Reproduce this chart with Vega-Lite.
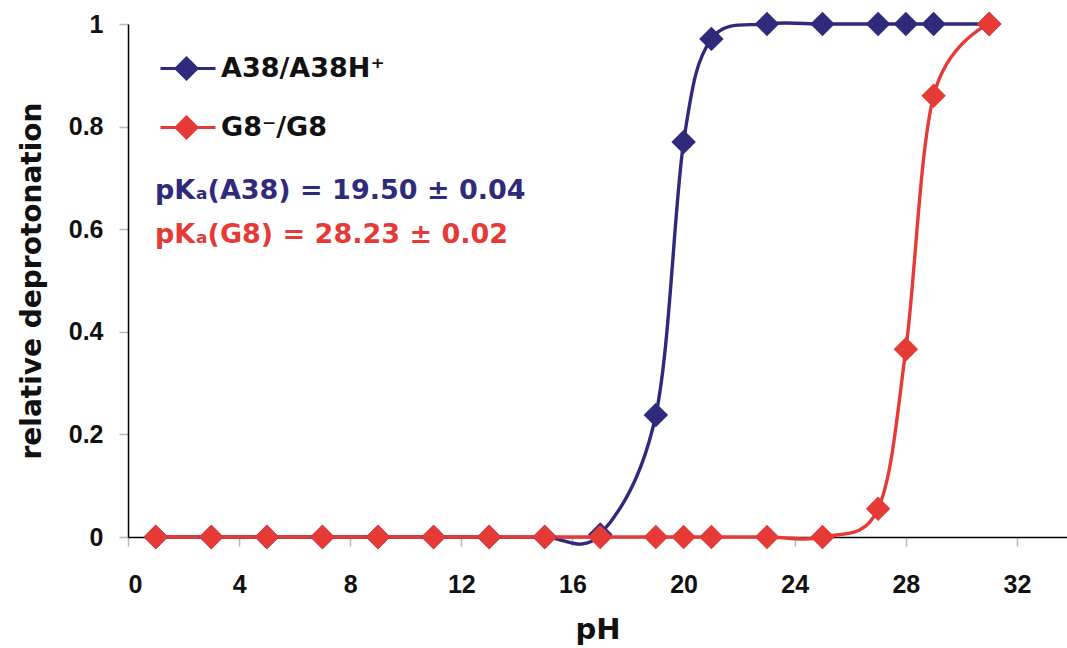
{
  "$schema": "https://vega.github.io/schema/vega-lite/v6.json",
  "width": 939,
  "height": 513,
  "autosize": {"type": "none"},
  "padding": {"left": 128, "top": 24, "right": 0, "bottom": 111},
  "background": "white",
  "config": {
    "view": {"stroke": null},
    "axis": {
      "grid": false,
      "domainColor": "black",
      "domainWidth": 1.5,
      "tickColor": "#b8b8b8",
      "tickSize": 9,
      "tickWidth": 1.5,
      "labelFont": "Liberation Sans",
      "labelFontWeight": "bold",
      "labelFontSize": 25,
      "labelColor": "#111",
      "titleFont": "DejaVu Sans",
      "titleFontWeight": "bold",
      "titleColor": "#111"
    }
  },
  "datasets": {
    "curves": [
      {"series": "A38/A38H⁺", "pH": 1, "value": 0},
      {"series": "A38/A38H⁺", "pH": 3, "value": 0},
      {"series": "A38/A38H⁺", "pH": 5, "value": 0},
      {"series": "A38/A38H⁺", "pH": 7, "value": 0},
      {"series": "A38/A38H⁺", "pH": 9, "value": 0},
      {"series": "A38/A38H⁺", "pH": 11, "value": 0},
      {"series": "A38/A38H⁺", "pH": 13, "value": 0},
      {"series": "A38/A38H⁺", "pH": 15, "value": 0},
      {"series": "A38/A38H⁺", "pH": 17, "value": 0.005},
      {"series": "A38/A38H⁺", "pH": 19, "value": 0.238},
      {"series": "A38/A38H⁺", "pH": 20, "value": 0.77},
      {"series": "A38/A38H⁺", "pH": 21, "value": 0.971},
      {"series": "A38/A38H⁺", "pH": 23, "value": 1},
      {"series": "A38/A38H⁺", "pH": 25, "value": 1},
      {"series": "A38/A38H⁺", "pH": 27, "value": 1},
      {"series": "A38/A38H⁺", "pH": 28, "value": 1},
      {"series": "A38/A38H⁺", "pH": 29, "value": 1},
      {"series": "A38/A38H⁺", "pH": 31, "value": 1},
      {"series": "G8⁻/G8", "pH": 1, "value": 0},
      {"series": "G8⁻/G8", "pH": 3, "value": 0},
      {"series": "G8⁻/G8", "pH": 5, "value": 0},
      {"series": "G8⁻/G8", "pH": 7, "value": 0},
      {"series": "G8⁻/G8", "pH": 9, "value": 0},
      {"series": "G8⁻/G8", "pH": 11, "value": 0},
      {"series": "G8⁻/G8", "pH": 13, "value": 0},
      {"series": "G8⁻/G8", "pH": 15, "value": 0},
      {"series": "G8⁻/G8", "pH": 17, "value": 0},
      {"series": "G8⁻/G8", "pH": 19, "value": 0},
      {"series": "G8⁻/G8", "pH": 20, "value": 0},
      {"series": "G8⁻/G8", "pH": 21, "value": 0},
      {"series": "G8⁻/G8", "pH": 23, "value": 0},
      {"series": "G8⁻/G8", "pH": 25, "value": 0},
      {"series": "G8⁻/G8", "pH": 27, "value": 0.055},
      {"series": "G8⁻/G8", "pH": 28, "value": 0.366},
      {"series": "G8⁻/G8", "pH": 29, "value": 0.86},
      {"series": "G8⁻/G8", "pH": 31, "value": 1}
    ],
    "notes": [
      {"series": "A38/A38H⁺", "label": "pKₐ(A38) = 19.50 ± 0.04", "pH": 0.97, "value": 0.659},
      {"series": "G8⁻/G8", "label": "pKₐ(G8) = 28.23 ± 0.02", "pH": 0.97, "value": 0.573}
    ]
  },
  "encoding": {
    "x": {
      "field": "pH",
      "type": "quantitative",
      "scale": {"domain": [0, 33.8], "nice": false, "zero": false},
      "axis": {
        "values": [0, 4, 8, 12, 16, 20, 24, 28, 32],
        "labelPadding": 26,
        "title": "pH",
        "titleFontSize": 29,
        "titlePadding": 18
      }
    },
    "y": {
      "field": "value",
      "type": "quantitative",
      "scale": {"domain": [0, 1], "nice": false},
      "axis": {
        "values": [0, 0.2, 0.4, 0.6, 0.8, 1],
        "format": ".1~f",
        "labelPadding": 16,
        "title": "relative deprotonation",
        "titleFontSize": 28,
        "titlePadding": 22
      }
    }
  },
  "layer": [
    {
      "data": {"values": [{}]},
      "mark": {"type": "rule", "color": "black", "strokeWidth": 1.5},
      "encoding": {"y": {"datum": 1}, "x": null}
    },
    {
      "data": {"name": "curves"},
      "mark": {"type": "line", "interpolate": "cardinal", "strokeWidth": 3.4},
      "encoding": {
        "color": {
          "field": "series",
          "type": "nominal",
          "scale": {"domain": ["A38/A38H⁺", "G8⁻/G8"], "range": ["#2f2a7c", "#e63a37"]}
        }
      }
    },
    {
      "data": {"name": "curves"},
      "mark": {"type": "point", "shape": "diamond", "filled": true, "size": 600, "opacity": 1},
      "encoding": {
        "color": {
          "field": "series",
          "type": "nominal",
          "scale": {"domain": ["A38/A38H⁺", "G8⁻/G8"], "range": ["#2f2a7c", "#e63a37"]},
          "legend": {
            "title": null,
            "orient": "none",
            "legendX": 45,
            "legendY": 31,
            "padding": 0,
            "symbolType": "M-2.6,0L2.9,0M-1.05,0L0,-1.05L1.05,0L0,1.05Z",
            "symbolSize": 400,
            "symbolStrokeWidth": 3,
            "symbolOpacity": 1,
            "labelFont": "DejaVu Sans",
            "labelFontWeight": "bold",
            "labelFontSize": 27,
            "labelColor": "#111",
            "labelOffset": 21,
            "labelLimit": 0,
            "rowPadding": 26,
            "encode": {
              "symbols": {"update": {"stroke": {"scale": "color", "field": "value"}}}
            }
          }
        }
      }
    },
    {
      "data": {"name": "notes"},
      "transform": [{"filter": "datum.series === 'A38/A38H⁺'"}],
      "mark": {"type": "text", "align": "left", "baseline": "alphabetic", "font": "DejaVu Sans", "fontWeight": "bold", "fontSize": 27, "color": "#2f2a7c"},
      "encoding": {"text": {"field": "label"}}
    },
    {
      "data": {"name": "notes"},
      "transform": [{"filter": "datum.series === 'G8⁻/G8'"}],
      "mark": {"type": "text", "align": "left", "baseline": "alphabetic", "font": "DejaVu Sans", "fontWeight": "bold", "fontSize": 27, "color": "#e63a37"},
      "encoding": {"text": {"field": "label"}}
    }
  ]
}
